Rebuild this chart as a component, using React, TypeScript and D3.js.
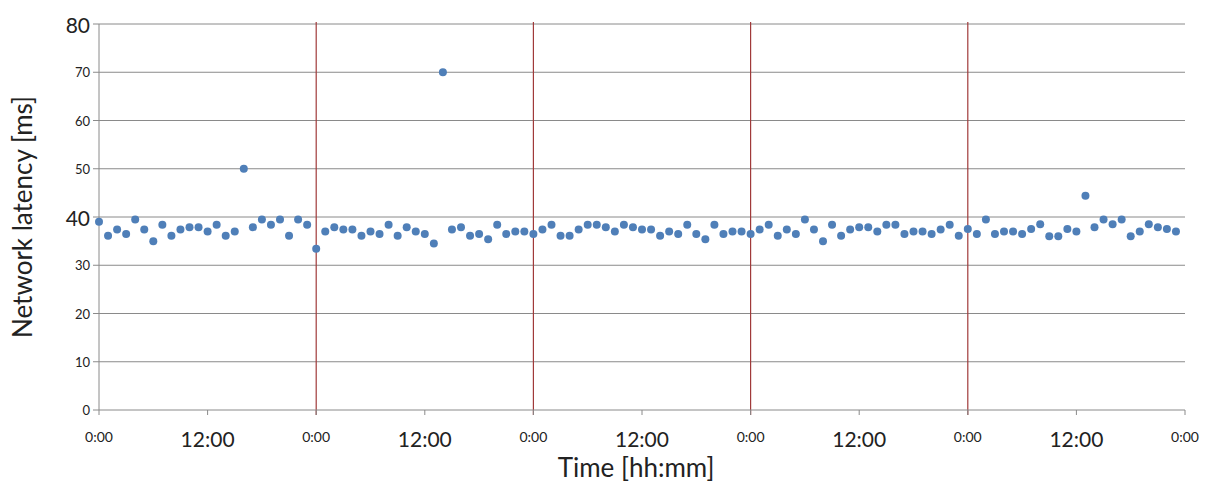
import React, { useEffect, useRef } from "react";
import * as d3 from "d3";

const hours: number[] = Array.from({ length: 120 }, (_, i) => i);
const latency: number[] = [
  39.0, 36.1, 37.4, 36.5, 39.5, 37.4, 35.0, 38.4, 36.1, 37.4, 37.9, 37.9, 37.0, 38.4, 36.1, 37.0,
  50.0, 37.9, 39.5, 38.4, 39.5, 36.1, 39.5, 38.4,
  33.4, 37.0, 37.9, 37.4, 37.4, 36.1, 37.0, 36.5, 38.4, 36.1, 37.9, 37.0, 36.5, 34.5,
  70.0, 37.4, 37.9, 36.1, 36.5, 35.4, 38.4, 36.5, 37.0, 37.0,
  36.5, 37.4, 38.4, 36.1, 36.1, 37.4, 38.4, 38.4, 37.9, 37.0, 38.4, 37.9, 37.4, 37.4, 36.1, 37.0,
  36.5, 38.4, 36.5, 35.4, 38.4, 36.5, 37.0, 37.0,
  36.5, 37.4, 38.4, 36.1, 37.4, 36.5, 39.5, 37.4, 35.0, 38.4, 36.1, 37.4, 37.9, 37.9, 37.0, 38.4,
  38.4, 36.5, 37.0, 37.0, 36.5, 37.4, 38.4, 36.1,
  37.5, 36.5, 39.5, 36.5, 37.0, 37.0, 36.5, 37.5, 38.5, 36.0, 36.0, 37.5, 37.0,
  44.4, 37.9, 39.5, 38.5, 39.5, 36.0, 37.0, 38.5, 37.9, 37.5, 37.0,
];
const yTicks: number[] = [0, 10, 20, 30, 40, 50, 60, 70, 80];
const xTicks: number[] = [0, 12, 24, 36, 48, 60, 72, 84, 96, 108, 120];
const xTickLabels: string[] = ["0:00", "12:00", "0:00", "12:00", "0:00", "12:00", "0:00", "12:00", "0:00", "12:00", "0:00"];
const dayLines: number[] = [24, 48, 72, 96];

const W = 1205;
const H = 486;
const M = { left: 99, right: 1185, top: 24, bottom: 410 };
const FONT = "Lato, 'Open Sans', sans-serif";

export default function App() {
  const ref = useRef<SVGSVGElement>(null);
  useEffect(() => {
    const svg = d3.select(ref.current);
    svg.selectAll("*").remove();
    const x = d3.scaleLinear().domain([0, 120]).range([M.left, M.right]);
    const y = d3.scaleLinear().domain([0, 80]).range([M.bottom, M.top]);

    svg.append("rect").attr("width", W).attr("height", H).attr("fill", "#fff");

    svg.append("g").selectAll("line").data(yTicks.filter((d) => d > 0)).join("line")
      .attr("x1", M.left).attr("x2", M.right)
      .attr("y1", (d) => y(d)).attr("y2", (d) => y(d))
      .attr("stroke", "#8a8a8a").attr("stroke-width", 1);

    svg.append("g").selectAll("line").data(dayLines).join("line")
      .attr("x1", (d) => x(d)).attr("x2", (d) => x(d))
      .attr("y1", M.top - 2).attr("y2", M.bottom + 5)
      .attr("stroke", "#a03a3a").attr("stroke-width", 1.2);

    svg.append("line").attr("x1", M.left).attr("x2", M.left).attr("y1", M.top).attr("y2", M.bottom)
      .attr("stroke", "#8a8a8a");
    svg.append("g").selectAll("line").data(yTicks).join("line")
      .attr("x1", M.left - 6).attr("x2", M.left)
      .attr("y1", (d) => y(d)).attr("y2", (d) => y(d))
      .attr("stroke", "#8a8a8a");
    svg.append("g").selectAll("text").data(yTicks).join("text")
      .attr("x", M.left - 9).attr("y", (d) => y(d))
      .attr("text-anchor", "end").attr("dominant-baseline", "central")
      .attr("font-family", FONT)
      .attr("font-size", (d) => (d === 80 || d === 40 ? 21 : 13))
      .attr("fill", "#222")
      .text((d) => String(d));

    svg.append("line").attr("x1", M.left).attr("x2", M.right).attr("y1", M.bottom).attr("y2", M.bottom)
      .attr("stroke", "#8a8a8a");
    svg.append("g").selectAll("line").data(xTicks).join("line")
      .attr("x1", (d) => x(d)).attr("x2", (d) => x(d))
      .attr("y1", M.bottom).attr("y2", M.bottom + 5)
      .attr("stroke", "#8a8a8a");
    svg.append("g").selectAll("text").data(xTicks).join("text")
      .attr("x", (d) => x(d))
      .attr("y", (d, i) => (i % 2 === 1 ? 447 : 442))
      .attr("text-anchor", "middle")
      .attr("font-family", FONT)
      .attr("font-size", (d, i) => (i % 2 === 1 ? 21 : 14))
      .attr("fill", "#222")
      .text((d, i) => xTickLabels[i]);

    svg.append("text").attr("x", 636).attr("y", 477).attr("text-anchor", "middle")
      .attr("font-family", FONT).attr("font-size", 26).attr("fill", "#222")
      .text("Time [hh:mm]");
    svg.append("text").attr("transform", "translate(32,217) rotate(-90)").attr("text-anchor", "middle")
      .attr("font-family", FONT).attr("font-size", 26).attr("fill", "#222")
      .text("Network latency [ms]");

    svg.append("g").selectAll("circle").data(hours).join("circle")
      .attr("cx", (d) => x(d)).attr("cy", (d, i) => y(latency[i]))
      .attr("r", 4).attr("fill", "#4f7fb8");
  }, []);
  return (
    <svg ref={ref} width={W} height={H} style={{ position: "absolute", left: 0, top: 0 }} />
  );
}
